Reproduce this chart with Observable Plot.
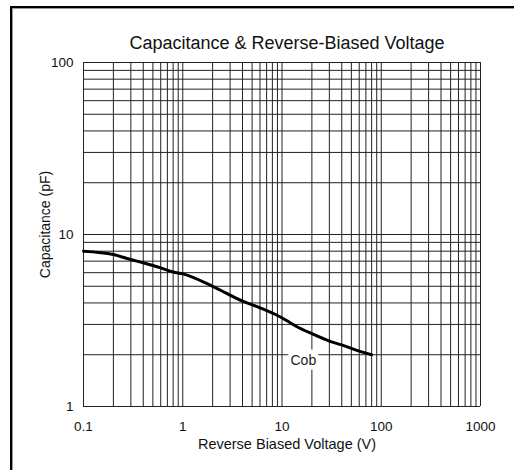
<!DOCTYPE html>
<html>
<head>
<meta charset="utf-8">
<script src="https://cdn.jsdelivr.net/npm/d3@7"></script>
<script src="https://cdn.jsdelivr.net/npm/@observablehq/plot@0.6"></script>
<style>
  html, body { margin: 0; padding: 0; background: #fff; }
  #wrap { position: relative; width: 514px; height: 470px; overflow: hidden; }
  #frame { position: absolute; left: 10px; top: 6px; width: 520px; height: 480px;
           border-top: 2px solid #000; border-left: 2px solid #000;
           box-shadow: inset 1px 1px 0 #9a9a9a; pointer-events: none; }
  #chart { position: absolute; left: 0; top: 0; }
</style>
</head>
<body>
<div id="wrap"><div id="chart"></div><div id="frame"></div></div>
<script>
// Data (Cob)
const voltage     = [0.1, 0.2, 0.3, 0.4, 0.6, 0.8, 1, 2, 4, 6, 9, 11, 14, 20, 30, 40, 60, 80];
const capacitance = [8.0, 7.65, 7.15, 6.85, 6.4, 6.05, 5.9, 5.0, 4.1, 3.75, 3.38, 3.17, 2.92, 2.65, 2.4, 2.28, 2.1, 2.0];

const xTickValues = [0.1, 1, 10, 100, 1000];
const xTickLabels = ["0.1", "1", "10", "100", "1000"];
const yTickValues = [1, 10, 100];
const yTickLabels = ["1", "10", "100"];

const title = "Capacitance & Reverse-Biased Voltage";
const xLabel = "Reverse Biased Voltage (V)";
const yLabel = "Capacitance (pF)";
const seriesLabel = ["Cob"];
const seriesLabelPos = { x: 16.4, y: 1.85 };

// log grid lines (1..9 per decade)
const xGrid = [];
for (const d of [0.1, 1, 10, 100]) for (let k = 1; k <= 9; k++) xGrid.push(+(d * k).toPrecision(3));
xGrid.push(1000);
const yGrid = [];
for (const d of [1, 10]) for (let k = 1; k <= 9; k++) yGrid.push(d * k);
yGrid.push(100);

const curve = voltage.map((v, i) => ({ v, c: capacitance[i] }));

const centered = { textAnchor: "middle", lineAnchor: "middle", fill: "#111", text: d => d };

const chart = Plot.plot({
  width: 514,
  height: 470,
  marginLeft: 83,
  marginRight: 34,
  marginTop: 62,
  marginBottom: 64,
  x: { type: "log", domain: [0.1, 1000] },
  y: { type: "log", domain: [1, 100] },
  style: { fontFamily: "'Liberation Sans', Arial, sans-serif", background: "transparent", color: "#111" },
  marks: [
    Plot.gridX(xGrid, { stroke: "#222", strokeOpacity: 1, strokeWidth: 1 }),
    Plot.gridY(yGrid, { stroke: "#222", strokeOpacity: 1, strokeWidth: 1 }),
    Plot.axisX(xTickValues, { anchor: "bottom", tickSize: 0, tickPadding: 15, fontSize: 13.5,
      tickFormat: d => xTickLabels[xTickValues.indexOf(d)], label: null }),
    Plot.axisY(yTickValues, { anchor: "left", tickSize: 0, tickPadding: 10, fontSize: 13.5,
      tickFormat: d => yTickLabels[yTickValues.indexOf(d)], label: null }),
    Plot.line(curve, { x: "v", y: "c", stroke: "#000", strokeWidth: 3, curve: "monotone-x" }),
    Plot.text(seriesLabel, { x: () => seriesLabelPos.x, y: () => seriesLabelPos.y, text: d => d,
      fontSize: 14, fill: "#222", stroke: "#fff", strokeWidth: 9, paintOrder: "stroke" }),
    Plot.text([title], { ...centered, frameAnchor: "top", dy: -19, dx: 5, fontSize: 18 }),
    Plot.text([xLabel], { ...centered, frameAnchor: "bottom", dy: 38, dx: 5, fontSize: 14.5 }),
    Plot.text([yLabel], { ...centered, frameAnchor: "left", dx: -38, dy: -10, rotate: -90, fontSize: 14 })
  ]
});
document.getElementById("chart").appendChild(chart);
</script>
</body>
</html>
